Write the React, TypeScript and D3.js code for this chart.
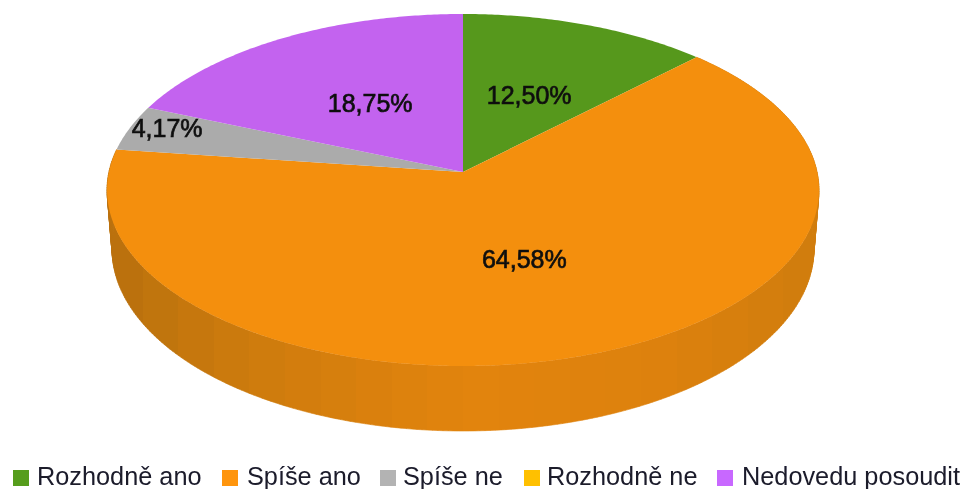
import React from "react";
import * as d3 from "d3";

const categories = ["Rozhodně ano", "Spíše ano", "Spíše ne", "Rozhodně ne", "Nedovedu posoudit"];
const values = [12.5, 64.58, 4.17, 0, 18.75];
const labels = ["12,50%", "64,58%", "4,17%", "", "18,75%"];
const faceColors = ["#56981c", "#f48f0d", "#ababab", "#fbbc00", "#c363ef"];
const legendColors = ["#579d1c", "#ff950e", "#b3b3b3", "#ffc000", "#c868ff"];
const legendSwatchX = [13, 222, 380, 524, 717];
const legendTextX = [37, 247, 403, 547, 742];

const W = 962, H = 489;
const cx = 463, apexY = 172;
// perspective of the disc
const persp = 36 / 352, yScale = 158 * (1 + persp), xScale = 354.1;
const topFace = { cy: 190, rx: 356, ry: 176 };
const bottomFace = { cy: 249, rx: 351, ry: 182 };

type P = [number, number];
const project = (angle: number, r: number): P => {
  const u = r * Math.sin(angle), v = r * Math.cos(angle);
  const w = 1 + persp * v;
  return [cx + (xScale * u) / w, apexY - (yScale * v) / w];
};
const toBottom = ([x, y]: P): P => [
  cx + ((x - cx) / topFace.rx) * bottomFace.rx,
  bottomFace.cy + ((y - topFace.cy) / topFace.ry) * bottomFace.ry,
];

const pieGen = d3.pie<number>().sort(null).value((d) => d);
const arcs = pieGen(values);
const line = d3.line<P>();

const wallShade = d3
  .scaleLinear<string>()
  .domain([-1, -0.62, 0, 0.6, 1])
  .range(["#b86f0b", "#cd7b0c", "#e2840d", "#dc810c", "#cf7c0b"]);

function slicePath(a0: number, a1: number) {
  const n = Math.max(2, Math.ceil((a1 - a0) / 0.01));
  const pts: P[] = [[cx, apexY]];
  for (let i = 0; i <= n; i++) pts.push(project(a0 + ((a1 - a0) * i) / n, 1));
  return line(pts) + "Z";
}

// the wall as thin quads: they share one x-based gradient, so no seams show
function wallQuads(a0: number, a1: number) {
  const n = 300;
  return d3.range(n).map((i) => {
    const p0 = project(a0 + ((a1 - a0) * i) / n, 1);
    const p1 = project(a0 + ((a1 - a0) * (i + 1)) / n, 1);
    return line([p0, p1, toBottom(p1), toBottom(p0)]) + "Z";
  });
}

// vertical bands across the wall, as hard-stop gradient stops
const bandCount = 20;
const bandStops = d3.range(bandCount).flatMap((b) => {
  const color = wallShade(((b + 0.5) / bandCount) * 2 - 1);
  return [
    { offset: b / bandCount, color },
    { offset: (b + 1) / bandCount, color },
  ];
});

export default function App() {
  const wallArc = arcs[1];
  return (
    <svg
      width={W}
      height={H}
      viewBox={`0 0 ${W} ${H}`}
      style={{ position: "absolute", left: 0, top: 0, background: "#fff" }}
      fontFamily="'Liberation Sans', Arial, sans-serif"
    >
      <defs>
        <filter id="soft" x="-5%" y="-5%" width="110%" height="110%">
          <feGaussianBlur stdDeviation="0.5" />
        </filter>
        <linearGradient id="wall" gradientUnits="userSpaceOnUse" x1={cx - topFace.rx} x2={cx + topFace.rx} y1={0} y2={0}>
          {bandStops.map((s, i) => (
            <stop key={i} offset={s.offset} stopColor={s.color} />
          ))}
        </linearGradient>
      </defs>
      <g filter="url(#soft)">
        <path d={wallQuads(wallArc.startAngle, wallArc.endAngle).join("")} fill="url(#wall)" stroke="url(#wall)" strokeWidth={0.6} />
        {arcs.map((a) =>
          a.value > 0 ? (
            <path key={a.index} d={slicePath(a.startAngle, a.endAngle)} fill={faceColors[a.index]} />
          ) : null
        )}
        {arcs.map((a) => {
          if (!labels[a.index]) return null;
          const small = a.value / d3.sum(values) < 0.05;
          const [x, y] = project((a.startAngle + a.endAngle) / 2, small ? 0.89 : 0.5);
          return (
            <text
              key={a.index}
              x={x + 1.5}
              y={y + (small ? 4 : 9)}
              textAnchor="middle"
              fontSize={25}
              fill="#111"
              stroke="#111"
              strokeWidth={0.7}
            >
              {labels[a.index]}
            </text>
          );
        })}
        {categories.map((c, i) => (
          <g key={c}>
            <rect x={legendSwatchX[i]} y={470} width={16} height={16} fill={legendColors[i]} />
            <text x={legendTextX[i]} y={485} fontSize={25.3} fill="#1a1a2a">
              {c}
            </text>
          </g>
        ))}
      </g>
    </svg>
  );
}
